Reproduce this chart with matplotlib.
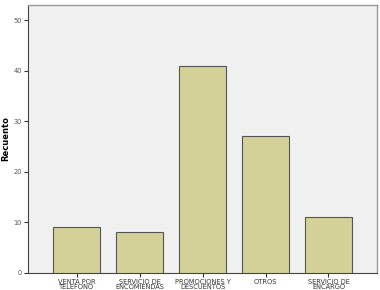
import matplotlib
matplotlib.use("Agg")
import matplotlib.pyplot as plt
import numpy as np

categorias = ["VENTA POR\nTELEFONO", "SERVICIO DE\nENCOMIENDAS", "PROMOCIONES Y\nDESCUENTOS",
              "OTROS", "SERVICIO DE\nENCARGO"]
recuento = [9, 8, 41, 27, 11]
yticks = [0, 10, 20, 30, 40, 50]

fig = plt.figure(figsize=(3.8, 2.9), dpi=100)
ax = fig.add_axes([0.074, 0.060, 0.918, 0.923])
ax.set_facecolor("#f0f0f0")

x = np.arange(len(categorias))
ax.bar(x, recuento, width=0.75, color="#d3d198", edgecolor="#555555", linewidth=0.8, zorder=3)

ax.set_xlim(-0.77, len(categorias) - 1 + 0.77)
ax.set_ylim(0, 53)
ax.set_yticks(yticks)
ax.set_yticklabels([str(v) for v in yticks], fontsize=4.8, color="#555555")
ax.set_xticks(x)
ax.set_xticklabels(categorias, fontsize=4.8, color="#333333", linespacing=0.85)
ax.tick_params(axis="both", length=3, width=0.8, color="#333333", pad=1.5)
ax.set_ylabel("Recuento", fontsize=6, fontweight="bold", labelpad=2)

for side in ("left", "bottom"):
    ax.spines[side].set_color("#444444")
    ax.spines[side].set_linewidth(0.8)
for side in ("top", "right"):
    ax.spines[side].set_color("#999999")
    ax.spines[side].set_linewidth(1.0)

fig.savefig("out.png", dpi=100)
